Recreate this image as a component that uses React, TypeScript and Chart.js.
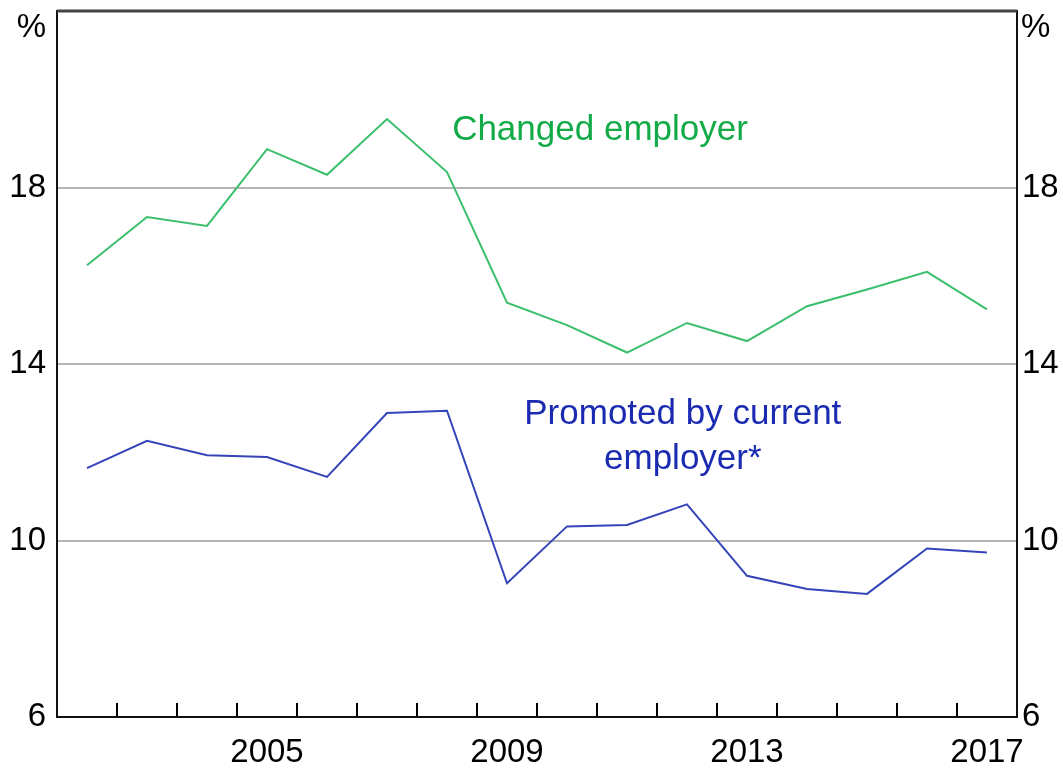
import React, { useEffect, useRef } from "react";
import { Chart, registerables } from "chart.js";

Chart.register(...registerables);

const years = [2002, 2003, 2004, 2005, 2006, 2007, 2008, 2009, 2010, 2011, 2012, 2013, 2014, 2015, 2016, 2017];
const changedEmployer = [16.24, 17.33, 17.13, 18.87, 18.29, 19.55, 18.35, 15.39, 14.88, 14.26, 14.93, 14.52, 15.31, 15.69, 16.09, 15.24];
const promotedByCurrent = [11.64, 12.26, 11.93, 11.89, 11.44, 12.89, 12.94, 9.03, 10.32, 10.35, 10.82, 9.2, 8.9, 8.79, 9.82, 9.73];
const xLabelYears = [2005, 2009, 2013, 2017];
const yTicks = [6, 10, 14, 18];
const yMin = 6;
const yMax = 22;

const FONT = "'Liberation Sans', Arial, sans-serif";
const GREEN_LINE = "#3cbf6c";
const GREEN_TEXT = "#12ab48";
const BLUE_LINE = "#3444b9";
const BLUE_TEXT = "#1a2bb2";

const labels = [
  { lines: ["Changed employer"], x: 2010.55, y: 19.08, color: GREEN_TEXT },
  { lines: ["Promoted by current", "employer*"], x: 2011.93, y: 12.64, color: BLUE_TEXT },
];

const zeroPad = (s: any) => {
  s.paddingTop = 0;
  s.paddingBottom = 0;
  s.paddingLeft = 0;
  s.paddingRight = 0;
};

const decorPlugin = {
  id: "decor",
  afterDatasetsDraw(chart: any) {
    const { ctx, chartArea } = chart;
    const xs = chart.scales.x;
    const ys = chart.scales.y;
    ctx.save();
    // inner tick marks at year boundaries
    ctx.strokeStyle = "#000";
    ctx.lineWidth = 2;
    for (let i = 0; i < years.length - 1; i++) {
      const px = Math.round(xs.getPixelForValue(years[i] + 0.5));
      ctx.beginPath();
      ctx.moveTo(px, chartArea.bottom);
      ctx.lineTo(px, chartArea.bottom - 14);
      ctx.stroke();
    }
    // frame
    ctx.strokeStyle = "#111";
    ctx.lineWidth = 2;
    ctx.strokeRect(chartArea.left, chartArea.top, chartArea.right - chartArea.left, chartArea.bottom - chartArea.top);
    ctx.strokeStyle = "#444";
    ctx.lineWidth = 3;
    ctx.beginPath();
    ctx.moveTo(chartArea.left, chartArea.top);
    ctx.lineTo(chartArea.right, chartArea.top);
    ctx.stroke();
    // % unit labels
    ctx.fillStyle = "#000";
    ctx.font = `33px ${FONT}`;
    ctx.textBaseline = "alphabetic";
    ctx.textAlign = "right";
    ctx.fillText("%", chartArea.left - 11, chartArea.top + 26);
    ctx.textAlign = "left";
    ctx.fillText("%", chartArea.right + 4, chartArea.top + 26);
    // series annotations
    ctx.font = `35px ${FONT}`;
    ctx.textAlign = "center";
    for (const l of labels) {
      ctx.fillStyle = l.color;
      const px = xs.getPixelForValue(l.x);
      const py = ys.getPixelForValue(l.y);
      l.lines.forEach((t, i) => ctx.fillText(t, px, py + i * 45));
    }
    ctx.restore();
  },
};

export default function App() {
  const ref = useRef<HTMLCanvasElement>(null);
  useEffect(() => {
    if (!ref.current) return;
    const tickFont = { family: FONT, size: 33 };
    const chart = new Chart(ref.current, {
      type: "line",
      data: {
        datasets: [
          {
            label: "Changed employer",
            data: years.map((y, i) => ({ x: y, y: changedEmployer[i] })),
            borderColor: GREEN_LINE,
            borderWidth: 2,
            pointRadius: 0,
            tension: 0,
          },
          {
            label: "Promoted by current employer*",
            data: years.map((y, i) => ({ x: y, y: promotedByCurrent[i] })),
            borderColor: BLUE_LINE,
            borderWidth: 2,
            pointRadius: 0,
            tension: 0,
          },
        ],
      },
      options: {
        animation: false,
        responsive: false,
        maintainAspectRatio: false,
        layout: { padding: { top: 11, left: 0, right: 0, bottom: 0 } },
        plugins: { legend: { display: false }, tooltip: { enabled: false }, title: { display: false } },
        scales: {
          x: {
            type: "linear",
            min: years[0] - 0.5,
            max: years[years.length - 1] + 0.5,
            afterBuildTicks: (s: any) => {
              s.ticks = xLabelYears.map((v) => ({ value: v }));
            },
            afterFit: (s: any) => {
              s.height = 52;
              zeroPad(s);
            },
            grid: { display: false, drawTicks: false },
            border: { display: false },
            ticks: {
              font: tickFont,
              color: "#000",
              padding: 16,
              maxRotation: 0,
              autoSkip: false,
              callback: (v: any) => String(v),
            },
          },
          y: {
            position: "left",
            min: yMin,
            max: yMax,
            afterBuildTicks: (s: any) => {
              s.ticks = yTicks.map((v) => ({ value: v }));
            },
            afterFit: (s: any) => {
              s.width = 57;
              zeroPad(s);
            },
            grid: { color: "#b4b4b4", lineWidth: 2, drawTicks: false },
            border: { display: false },
            ticks: {
              font: tickFont,
              color: "#000",
              padding: 11,
              callback: (v: any) => String(v),
            },
          },
          y2: {
            position: "right",
            min: yMin,
            max: yMax,
            afterBuildTicks: (s: any) => {
              s.ticks = yTicks.map((v) => ({ value: v }));
            },
            afterFit: (s: any) => {
              s.width = 46;
              zeroPad(s);
            },
            grid: { display: false, drawTicks: false },
            border: { display: false },
            ticks: {
              font: tickFont,
              color: "#000",
              padding: 5,
              callback: (v: any) => String(v),
            },
          },
        },
      },
      plugins: [decorPlugin],
    });
    return () => chart.destroy();
  }, []);
  return (
    <div style={{ position: "absolute", left: 0, top: 0, width: 1063, height: 769, background: "#fff" }}>
      <canvas ref={ref} width={1063} height={769} style={{ width: 1063, height: 769, display: "block" }} />
    </div>
  );
}
